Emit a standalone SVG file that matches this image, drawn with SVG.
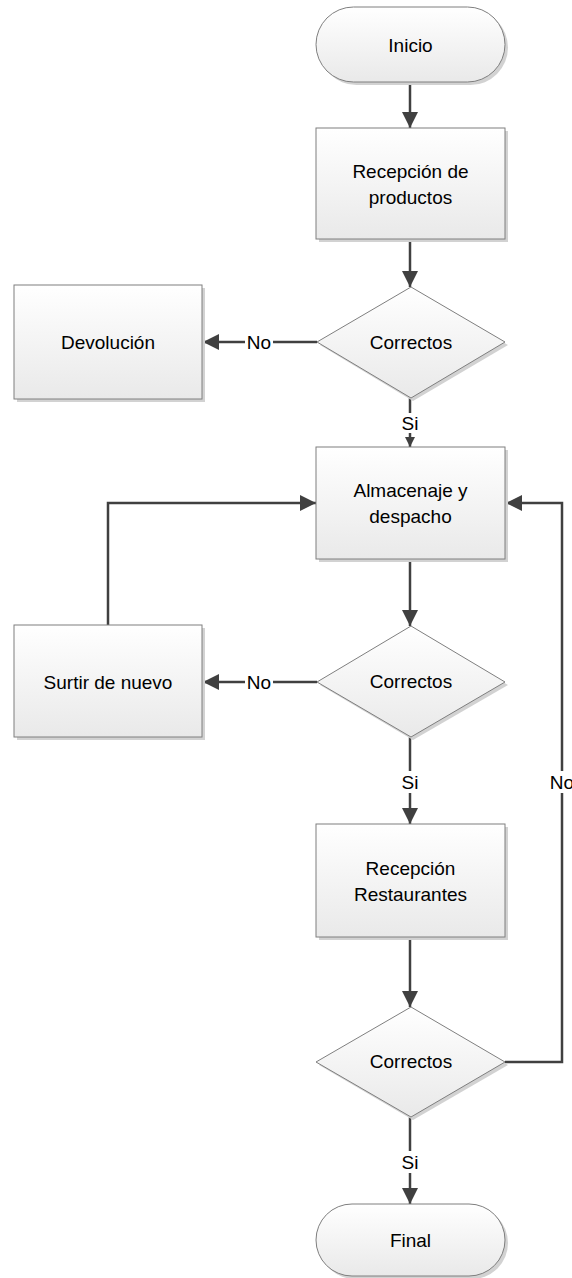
<svg xmlns="http://www.w3.org/2000/svg" width="572" height="1278" viewBox="0 0 572 1278">
  <style>
    .shape { fill: url(#fillGrad); stroke: #7f7f7f; stroke-width: 1; }
    .shadow { fill: #d2d2d2; }
    .label { font-family: "Liberation Sans", Arial, sans-serif; font-size: 19px; fill: #000; text-anchor: middle; dominant-baseline: central; }
    .edge { fill: none; stroke: #404040; stroke-width: 2.5; }
    .edgeLabel { font-family: "Liberation Sans", Arial, sans-serif; font-size: 19px; fill: #000; text-anchor: middle; dominant-baseline: central; }
    .lblBg { fill: #fff; }
  </style>
  <defs>
    <linearGradient id="fillGrad" x1="0" y1="0" x2="0" y2="1">
      <stop offset="0" stop-color="#ffffff"/>
      <stop offset="1" stop-color="#e9e9e9"/>
    </linearGradient>
    <marker id="arrow" viewBox="0 0 10 10" refX="10" refY="5" markerUnits="userSpaceOnUse" markerWidth="17" markerHeight="16" orient="auto">
      <path d="M0,0 L10,5 L0,10 z" fill="#404040"/>
    </marker>
    <marker id="arrowSmall" viewBox="0 0 10 10" refX="10" refY="5" markerUnits="userSpaceOnUse" markerWidth="10" markerHeight="11" orient="auto">
      <path d="M0,0 L10,5 L0,10 z" fill="#404040"/>
    </marker>
  </defs>
  <rect width="572" height="1278" fill="#ffffff"/>

  <!-- connectors -->
  <g id="connectors">
    <path class="edge" d="M410,83 L410,128" marker-end="url(#arrow)"/>
    <path class="edge" d="M410,242 L410,287" marker-end="url(#arrow)"/>
    <path class="edge" d="M317,342 L203,342" marker-end="url(#arrow)"/>
    <rect class="lblBg" x="245" y="332" width="28" height="20"/>
    <text class="edgeLabel" x="259" y="342">No</text>
    <path class="edge" d="M410,398 L410,447" marker-end="url(#arrowSmall)"/>
    <rect class="lblBg" x="400" y="413" width="20" height="20"/>
    <text class="edgeLabel" x="410" y="423">Si</text>
    <path class="edge" d="M410,562 L410,626" marker-end="url(#arrow)"/>
    <path class="edge" d="M317,682 L203,682" marker-end="url(#arrow)"/>
    <rect class="lblBg" x="245" y="672" width="28" height="20"/>
    <text class="edgeLabel" x="259" y="682">No</text>
    <path class="edge" d="M108,625 L108,503 L316,503" marker-end="url(#arrow)"/>
    <path class="edge" d="M410,737 L410,824" marker-end="url(#arrow)"/>
    <rect class="lblBg" x="400" y="771" width="20" height="22"/>
    <text class="edgeLabel" x="410" y="782">Si</text>
    <path class="edge" d="M410,940 L410,1007" marker-end="url(#arrow)"/>
    <path class="edge" d="M505,1062 L562,1062 L562,503 L506,503" marker-end="url(#arrow)"/>
    <rect class="lblBg" x="547" y="771" width="30" height="22"/>
    <text class="edgeLabel" x="562" y="782">No</text>
    <path class="edge" d="M410,1117 L410,1204" marker-end="url(#arrow)"/>
    <rect class="lblBg" x="400" y="1151" width="20" height="22"/>
    <text class="edgeLabel" x="410" y="1162">Si</text>
  </g>

  <g id="inicio">
    <rect class="shadow" x="319" y="10" width="189" height="75" rx="37.5" ry="37.5"/>
    <rect class="shape" x="316" y="7" width="189" height="75" rx="37.5" ry="37.5"/>
    <text class="label" x="410.5" y="45">Inicio</text>
  </g>

  <g id="recepcion-productos">
    <rect class="shadow" x="319" y="131" width="189" height="111"/>
    <rect class="shape" x="316" y="128" width="189" height="111"/>
    <text class="label" x="410.5" y="171">Recepción de</text>
    <text class="label" x="410.5" y="197">productos</text>
  </g>

  <g id="decision-1">
    <polygon class="shadow" points="413,290 508,345 413,401 320,345"/>
    <polygon class="shape" points="411,287 505,342 411,398 317,342"/>
    <text class="label" x="411" y="342">Correctos</text>
  </g>

  <g id="devolucion">
    <rect class="shadow" x="17" y="288" width="188" height="114"/>
    <rect class="shape" x="14" y="285" width="188" height="114"/>
    <text class="label" x="108" y="342">Devolución</text>
  </g>

  <g id="almacenaje">
    <rect class="shadow" x="319" y="450" width="189" height="112"/>
    <rect class="shape" x="316" y="447" width="189" height="112"/>
    <text class="label" x="410.5" y="490">Almacenaje y</text>
    <text class="label" x="410.5" y="516">despacho</text>
  </g>

  <g id="decision-2">
    <polygon class="shadow" points="413,629 508,685 413,740 320,685"/>
    <polygon class="shape" points="411,626 505,682 411,737 317,682"/>
    <text class="label" x="411" y="681">Correctos</text>
  </g>

  <g id="surtir">
    <rect class="shadow" x="17" y="628" width="188" height="112"/>
    <rect class="shape" x="14" y="625" width="188" height="112"/>
    <text class="label" x="108" y="682">Surtir de nuevo</text>
  </g>

  <g id="recepcion-restaurantes">
    <rect class="shadow" x="319" y="827" width="189" height="113"/>
    <rect class="shape" x="316" y="824" width="189" height="113"/>
    <text class="label" x="410.5" y="868">Recepción</text>
    <text class="label" x="410.5" y="894">Restaurantes</text>
  </g>

  <g id="decision-3">
    <polygon class="shadow" points="413,1010 508,1065 413,1120 319,1065"/>
    <polygon class="shape" points="411,1007 505,1062 411,1117 316,1062"/>
    <text class="label" x="411" y="1061">Correctos</text>
  </g>

  <g id="final">
    <rect class="shadow" x="319" y="1207" width="189" height="72" rx="36" ry="36"/>
    <rect class="shape" x="316" y="1204" width="189" height="72" rx="36" ry="36"/>
    <text class="label" x="410.5" y="1240">Final</text>
  </g>
</svg>
